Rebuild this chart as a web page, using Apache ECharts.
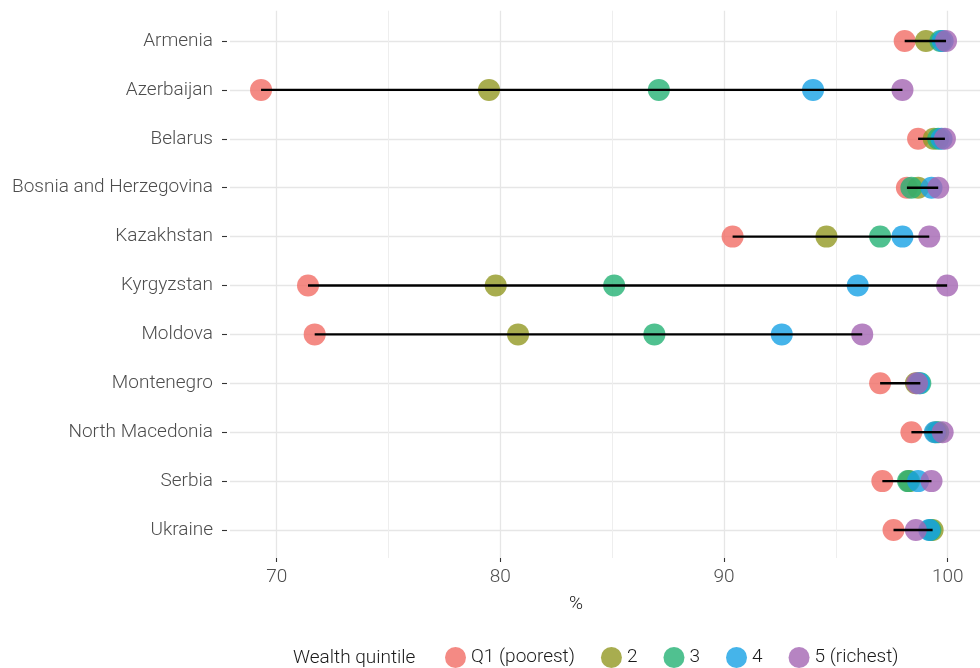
<!DOCTYPE html>
<html>
<head>
<meta charset="utf-8">
<script src="https://cdn.jsdelivr.net/npm/echarts@6/dist/echarts.min.js"></script>
<style>
html,body{margin:0;padding:0;background:#fff;}
#chart{width:980px;height:668px;}
</style>
</head>
<body>
<div id="chart"></div>
<script>
const countries = ["Armenia","Azerbaijan","Belarus","Bosnia and Herzegovina","Kazakhstan","Kyrgyzstan","Moldova","Montenegro","North Macedonia","Serbia","Ukraine"];
const quintileNames = ["Q1 (poorest)","2","3","4","5 (richest)"];
const q1 = [98.1, 69.3, 98.7, 98.2, 90.4, 71.4, 71.7, 97.0, 98.4, 97.1, 97.6];
const q2 = [99.05, 79.5, 99.4, 98.7, 94.6, 79.8, 80.8, 98.6, 99.5, 98.3, 99.35];
const q3 = [99.7, 87.1, 99.6, 98.4, 97.0, 85.1, 86.9, 98.8, 99.6, 98.25, 99.25];
const q4 = [99.8, 94.0, 99.75, 99.3, 98.0, 96.0, 92.6, 98.75, 99.45, 98.7, 99.2];
const q5 = [99.95, 98.0, 99.9, 99.6, 99.2, 100.0, 96.2, 98.65, 99.8, 99.3, 98.6];
const xTicks = [70, 80, 90, 100];
const colors = ["#f16d65", "#929823", "#24b274", "#16a1e5", "#a465b3"];

const quintiles = [q1, q2, q3, q4, q5];
const FONT = "Roboto";
const FS = 19;

const scatterSeries = quintiles.map((arr, k) => ({
  name: quintileNames[k],
  type: 'scatter',
  xAxisIndex: 1,
  yAxisIndex: 0,
  symbol: 'circle',
  symbolSize: 22,
  itemStyle: {color: colors[k], opacity: 0.8},
  data: arr.map((v, i) => [v, i]),
  z: 2 + k
}));

const rangeData = countries.map((c, i) => {
  const vals = quintiles.map(a => a[i]);
  return [Math.min.apply(null, vals), Math.max.apply(null, vals), i];
});

const chart = echarts.init(document.getElementById('chart'), null, {renderer: 'canvas'});
chart.setOption({
  animation: false,
  backgroundColor: '#fff',
  textStyle: {fontFamily: FONT},
  grid: [
    {left: 276.7, right: 32.3, top: 10.7, bottom: 110},
    {left: 230, right: 0, top: 41, bottom: 138}
  ],
  xAxis: [
    {
      type: 'value', gridIndex: 0, min: 70, max: 100, interval: 10,
      axisLine: {show: false},
      axisTick: {show: true, length: 4, lineStyle: {color: '#333', width: 1.1}},
      axisLabel: {color: '#4d4d4d', fontSize: FS, fontFamily: FONT, fontWeight: 300, margin: 10,
        formatter: v => xTicks.indexOf(v) >= 0 ? String(v) : ''},
      splitLine: {show: true, lineStyle: {color: '#e6e6e6', width: 1.3}},
      minorTick: {show: false, splitNumber: 2},
      minorSplitLine: {show: true, lineStyle: {color: '#eeeeee', width: 1}}
    },
    {
      type: 'value', gridIndex: 1, min: 67.91, max: 101.47, show: false,
      splitLine: {show: false}
    }
  ],
  yAxis: [
    {
      type: 'category', gridIndex: 1, data: countries, inverse: true, boundaryGap: false,
      offset: 3,
      axisLine: {show: false},
      axisTick: {show: true, length: 5, alignWithLabel: true, lineStyle: {color: '#333', width: 1.1}},
      axisLabel: {color: '#4d4d4d', fontSize: FS, fontFamily: FONT, fontWeight: 300, margin: 14, interval: 0},
      splitLine: {show: true, lineStyle: {color: '#e6e6e6', width: 1.3}}
    },
    {type: 'value', gridIndex: 0, show: false, splitLine: {show: false}}
  ],
  legend: {
    data: quintileNames,
    left: 440, top: 642,
    icon: 'circle', itemWidth: 21, itemHeight: 21, itemGap: 26,
    textStyle: {color: '#1a1a1a', fontSize: FS, fontFamily: FONT, fontWeight: 300},
    selectedMode: false
  },
  graphic: [
    {type: 'text', x: 293, y: 658, style: {text: 'Wealth quintile', fill: '#1a1a1a', font: '300 ' + FS + 'px ' + FONT, verticalAlign: 'middle'}},
    {type: 'text', x: 576, y: 604, style: {text: '%', fill: '#1a1a1a', font: '300 ' + FS + 'px ' + FONT, align: 'center', verticalAlign: 'middle'}}
  ],
  series: scatterSeries.concat([{
    name: 'range',
    type: 'custom',
    xAxisIndex: 1,
    yAxisIndex: 0,
    z: 10,
    encode: {x: [0, 1], y: 2},
    data: rangeData,
    renderItem: (params, api) => {
      const p1 = api.coord([api.value(0), api.value(2)]);
      const p2 = api.coord([api.value(1), api.value(2)]);
      return {type: 'line', shape: {x1: p1[0], y1: p1[1], x2: p2[0], y2: p2[1]},
        style: {stroke: '#000', lineWidth: 2.4}};
    }
  }])
});
</script>
</body>
</html>
